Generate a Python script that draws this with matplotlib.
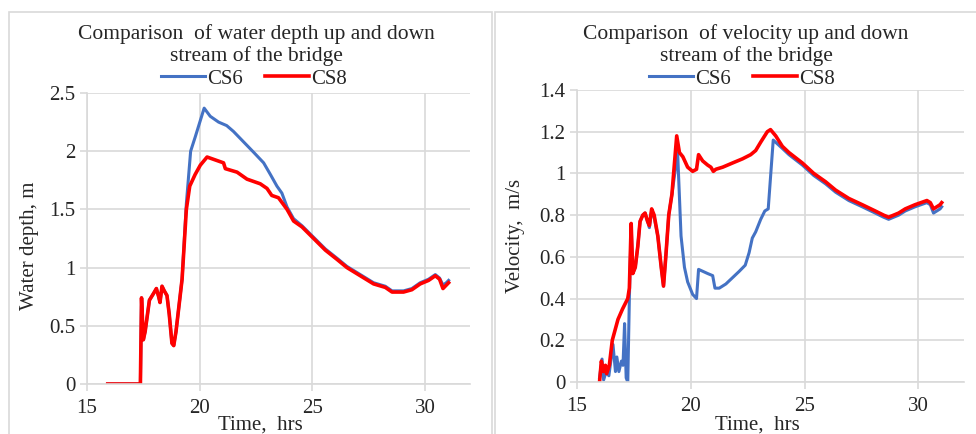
import matplotlib
matplotlib.use("Agg")
import matplotlib.pyplot as plt
from matplotlib.patches import Rectangle
from matplotlib.ticker import FuncFormatter

plt.rcParams['font.family'] = ['Liberation Serif', 'DejaVu Serif']

# water depth, left panel
t_depth_cs8 = [15.92, 17.37, 17.42, 17.5, 17.58, 17.77, 17.96, 18.08, 18.18, 18.24, 18.33, 18.43,
               18.55, 18.65, 18.77, 18.85, 18.95, 19.22, 19.41, 19.56, 19.8, 20.03, 20.33, 20.62,
               21.06, 21.14, 21.66, 22.1, 22.69, 22.99, 23.2, 23.5, 23.88, 24.17, 24.54, 25.06,
               25.58, 26.1, 26.54, 27.13, 27.72, 28.24, 28.54, 29.05, 29.42, 29.79, 30.16, 30.46,
               30.65, 30.8, 30.95, 31.05]
depth_cs8 = [0, 0, 0.74, 0.38, 0.45, 0.72, 0.78, 0.82, 0.75, 0.70, 0.84, 0.80,
             0.76, 0.60, 0.35, 0.33, 0.45, 0.90, 1.50, 1.70, 1.80, 1.88, 1.95, 1.93,
             1.90, 1.85, 1.82, 1.76, 1.72, 1.68, 1.62, 1.60, 1.50, 1.40, 1.35, 1.25,
             1.15, 1.07, 1.00, 0.93, 0.86, 0.83, 0.79, 0.79, 0.81, 0.86, 0.89, 0.93,
             0.90, 0.82, 0.85, 0.87]
t_depth_cs6 = [15.92, 17.37, 17.42, 17.5, 17.58, 17.77, 17.96, 18.08, 18.18, 18.24, 18.33, 18.43,
               18.55, 18.65, 18.77, 18.85, 18.95, 19.22, 19.41, 19.6, 19.8, 20.2, 20.47, 20.84,
               21.2, 21.5, 21.8, 22.1, 22.4, 22.84, 23.14, 23.43, 23.65, 23.88, 24.17, 24.54,
               25.06, 25.58, 26.1, 26.54, 27.13, 27.72, 28.24, 28.54, 29.05, 29.42, 29.79, 30.16,
               30.46, 30.65, 30.8, 30.95, 31.05]
depth_cs6 = [0, 0, 0.74, 0.38, 0.45, 0.72, 0.78, 0.82, 0.75, 0.70, 0.84, 0.80,
             0.76, 0.60, 0.35, 0.33, 0.45, 0.90, 1.55, 2.00, 2.12, 2.37, 2.30, 2.25,
             2.22, 2.17, 2.11, 2.05, 1.99, 1.90, 1.80, 1.70, 1.64, 1.52, 1.42, 1.36,
             1.26, 1.16, 1.08, 1.01, 0.94, 0.87, 0.84, 0.80, 0.80, 0.82, 0.87, 0.90,
             0.94, 0.91, 0.85, 0.87, 0.89]

# velocity, right panel
t_vel_cs8 = [15.99, 16.07, 16.17, 16.25, 16.3, 16.42, 16.55, 16.8, 17.0, 17.23, 17.3, 17.38,
             17.45, 17.56, 17.67, 17.77, 17.89, 17.99, 18.1, 18.18, 18.28, 18.39, 18.55, 18.7,
             18.8, 18.9, 19.03, 19.17, 19.38, 19.5, 19.65, 19.86, 20.08, 20.25, 20.34, 20.52,
             20.74, 20.88, 20.99, 21.1, 21.4, 21.83, 22.27, 22.63, 22.85, 23.07, 23.36, 23.5,
             23.73, 24.02, 24.31, 24.9, 25.4, 25.92, 26.36, 26.94, 27.53, 28.1, 28.47, 28.69,
             29.13, 29.42, 29.85, 30.37, 30.52, 30.66, 30.95, 31.02]
vel_cs8 = [0.0, 0.10, 0.05, 0.08, 0.04, 0.08, 0.20, 0.30, 0.35, 0.40, 0.45, 0.76,
           0.52, 0.55, 0.65, 0.77, 0.80, 0.81, 0.77, 0.75, 0.83, 0.80, 0.70, 0.55,
           0.46, 0.60, 0.80, 0.90, 1.18, 1.10, 1.08, 1.03, 1.01, 1.02, 1.09, 1.06,
           1.04, 1.03, 1.01, 1.02, 1.03, 1.05, 1.07, 1.09, 1.11, 1.15, 1.20, 1.21,
           1.18, 1.13, 1.10, 1.05, 1.00, 0.96, 0.92, 0.88, 0.85, 0.82, 0.80, 0.79,
           0.81, 0.83, 0.85, 0.87, 0.86, 0.83, 0.85, 0.86]
t_vel_cs6 = [15.99, 16.1, 16.17, 16.28, 16.4, 16.58, 16.69, 16.75, 16.84, 16.95, 17.02, 17.09,
             17.16, 17.23, 17.3, 17.38, 17.45, 17.56, 17.67, 17.77, 17.89, 17.99, 18.1, 18.18,
             18.28, 18.39, 18.55, 18.7, 18.8, 18.9, 19.03, 19.17, 19.42, 19.57, 19.72, 19.86,
             20.08, 20.25, 20.34, 20.74, 20.96, 21.06, 21.25, 21.54, 21.83, 22.12, 22.39, 22.56,
             22.7, 22.85, 23.07, 23.25, 23.4, 23.62, 24.02, 24.31, 24.9, 25.4, 25.92, 26.36,
             26.94, 27.53, 28.1, 28.47, 28.69, 29.13, 29.42, 29.85, 30.37, 30.52, 30.66, 30.95,
             31.02]
vel_cs6 = [0.02, 0.11, 0.01, 0.05, 0.03, 0.18, 0.05, 0.12, 0.05, 0.10, 0.08, 0.28,
           0.02, 0.0, 0.40, 0.75, 0.52, 0.55, 0.65, 0.77, 0.80, 0.81, 0.77, 0.74,
           0.82, 0.79, 0.70, 0.55, 0.46, 0.60, 0.80, 0.90, 1.10, 0.70, 0.55, 0.48,
           0.42, 0.40, 0.54, 0.52, 0.51, 0.45, 0.45, 0.47, 0.50, 0.53, 0.56, 0.62,
           0.69, 0.72, 0.78, 0.82, 0.83, 1.16, 1.12, 1.09, 1.04, 0.99, 0.95, 0.91,
           0.87, 0.84, 0.81, 0.79, 0.78, 0.80, 0.82, 0.84, 0.86, 0.85, 0.81, 0.83,
           0.84]

blue = '#4472C4'
red = '#FF0000'
grid = '#D9D9D9'
txt = '#262626'
W, H = 976, 434

fig = plt.figure(figsize=(W / 100, H / 100), dpi=100)

# panel frames
for x0, x1 in [(9, 492), (495, 990)]:
    fig.patches.append(Rectangle((x0 / W, -0.1), (x1 - x0) / W, (H - 12) / H + 0.1,
                                 transform=fig.transFigure, fill=False,
                                 edgecolor=grid, lw=1.2))


def style(ax, yticks, ylim):
    ax.set_xlim(15, 32)
    ax.set_ylim(*ylim)
    ax.set_xticks([15, 20, 25, 30])
    ax.set_yticks(yticks)
    ax.yaxis.set_major_formatter(FuncFormatter(lambda v, p: '{:g}'.format(round(v, 2))))
    ax.grid(True, color=grid, lw=1.2)
    ax.set_axisbelow(True)
    for s in ['top', 'right']:
        ax.spines[s].set_visible(False)
    for s in ['left', 'bottom']:
        ax.spines[s].set_color(grid)
        ax.spines[s].set_linewidth(1.2)
    ax.tick_params(colors=grid, labelcolor=txt, labelsize=15, length=5, width=1.2)
    ax.tick_params(axis='x', pad=6)


def panel(rect, t6, y6, t8, y8, title, ylabel, yticks, ylim, tcx, lcx, xlab_pos, ylab_pos):
    ax = fig.add_axes(rect)
    ax.plot(t6, y6, color=blue, lw=2.2)
    ax.plot(t8, y8, color=red, lw=2.6)
    style(ax, yticks, ylim)
    ax.set_xlabel('Time,  hrs', fontsize=15, color=txt, va='center')
    ax.xaxis.set_label_coords(*xlab_pos)
    ax.set_ylabel(ylabel, fontsize=15, color=txt, va='center')
    ax.yaxis.set_label_coords(*ylab_pos)
    fig.text(tcx / W, 1 - 45 / H, title, ha='center', va='center', fontsize=15.5,
             color=txt, linespacing=1.2)
    l1, = ax.plot([], [], color=blue, lw=2.2, label='CS6')
    l2, = ax.plot([], [], color=red, lw=2.6, label='CS8')
    fig.legend(handles=[l1, l2], loc='center', bbox_to_anchor=(lcx / W, 1 - 79 / H),
               ncol=2, frameon=False, fontsize=15, handlelength=2.1, handletextpad=0.1,
               columnspacing=1.1, labelcolor=txt, borderpad=0)
    return ax


panel([87 / W, 50 / H, 383 / W, 291 / H], t_depth_cs6, depth_cs6, t_depth_cs8, depth_cs8,
      'Comparison  of water depth up and down\nstream of the bridge', 'Water depth, m',
      [0, 0.5, 1, 1.5, 2, 2.5], (0, 2.5), 256, 254, (0.452, -0.141), (-0.15, 0.474))
panel([577 / W, 52 / H, 387 / W, 292 / H], t_vel_cs6, vel_cs6, t_vel_cs8, vel_cs8,
      'Comparison  of velocity up and down\nstream of the bridge', 'Velocity,  m/s',
      [0, 0.2, 0.4, 0.6, 0.8, 1, 1.2, 1.4], (0, 1.4), 746, 742, (0.465, -0.147), (-0.158, 0.5))

fig.savefig('out.png', dpi=100)
